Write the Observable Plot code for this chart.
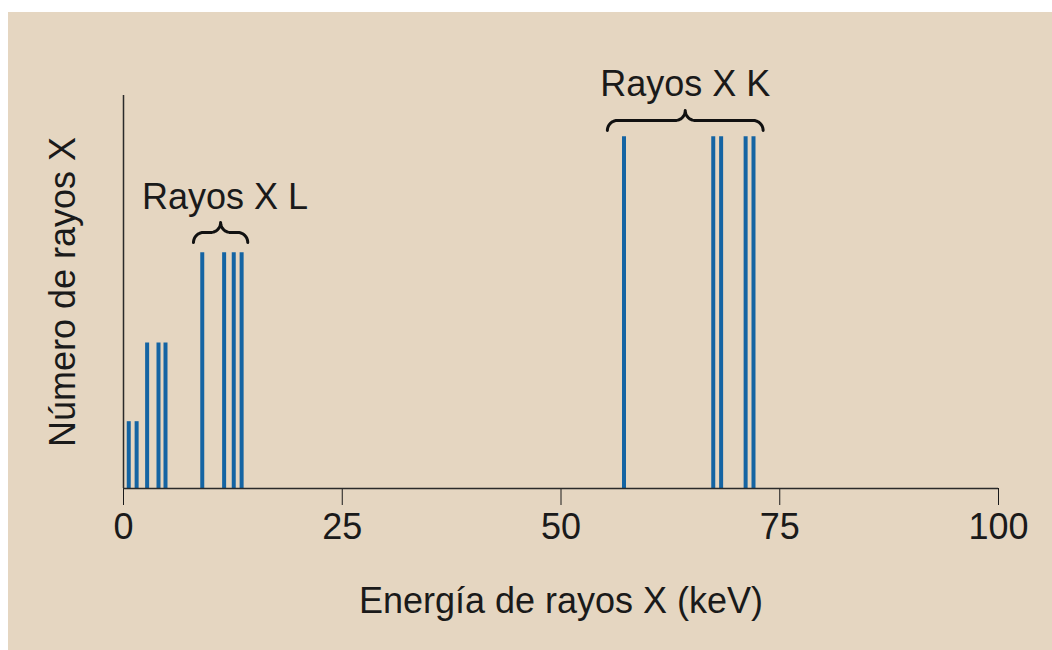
<!DOCTYPE html>
<html>
<head>
<meta charset="utf-8">
<script src="https://cdn.jsdelivr.net/npm/d3@7"></script>
<script src="https://cdn.jsdelivr.net/npm/@observablehq/plot@0.6"></script>
<style>
  html, body { margin: 0; padding: 0; background: #ffffff; }
  #panel { position: absolute; left: 8px; top: 12px; width: 1044px; height: 638px; background: #e5d6c1; }
  #panel svg { display: block; }
</style>
</head>
<body>
<div id="panel"></div>
<script>
// Spectral lines: energy (keV) and relative number of X-rays
const energies = [0.6, 1.5, 2.7, 4.0, 4.8, 9.0, 11.5, 12.6, 13.5, 57.2, 67.4, 68.3, 71.1, 72.0];
const counts   = [17, 17, 37, 37, 37, 60, 60, 60, 60, 89.5, 89.5, 89.5, 89.5, 89.5];

// Annotated groups (braces)
const groupLabels = ["Rayos X L", "Rayos X K"];
const groupStart  = [8.0, 55.3];
const groupEnd    = [14.2, 73.1];
const groupBase   = [62.6, 91.1];
const groupTextX  = [11.6, 64.2];
const groupTextY  = [71, 100];

const xTicks = [0, 25, 50, 75, 100];
const xLabel = "Energía de rayos X (keV)";
const yLabel = "Número de rayos X";

const W = 1044, H = 638;
const mL = 115, mR = 54, mT = 83, mB = 162;
const xDomain = [0, 100], yDomain = [0, 100];
const kx = (xDomain[1] - xDomain[0]) / (W - mL - mR); // data units per px
const ky = (yDomain[1] - yDomain[0]) / (H - mT - mB);

const lines = energies.map((e, i) => ({energy: e, count: counts[i]}));
const groups = groupLabels.map((g, i) => ({label: g, x: groupTextX[i], y: groupTextY[i]}));

// Curly brace outline built from each group's extent
function brace(g, x1, x2, yb) {
  const h = 20, r = h / 2;
  const wpx = (x2 - x1) / kx;
  const pts = [];
  const n = 12;
  const half = [];
  for (let j = 0; j <= n; j++) { const t = Math.PI - (Math.PI / 2) * j / n; half.push([r + r * Math.cos(t), r * Math.sin(t)]); }
  for (let j = 0; j <= n; j++) { const t = -Math.PI / 2 + (Math.PI / 2) * j / n; half.push([wpx / 2 - r + r * Math.cos(t), 2 * r + r * Math.sin(t)]); }
  half.forEach(([px, py]) => pts.push([px, py]));
  for (let j = half.length - 1; j >= 0; j--) pts.push([wpx - half[j][0], half[j][1]]);
  return pts.map(([px, py]) => ({g, x: x1 + px * kx, y: yb + py * ky}));
}
const braces = groupLabels.flatMap((g, i) => brace(g, groupStart[i], groupEnd[i], groupBase[i]));

const chart = Plot.plot({
  width: W, height: H,
  marginLeft: mL, marginRight: mR, marginTop: mT, marginBottom: mB,
  style: {background: "transparent", fontFamily: "'Liberation Sans', Arial, sans-serif", fontSize: "36px", color: "#1a1a1a"},
  x: {domain: xDomain, ticks: xTicks, tickSize: 17, tickPadding: 8, label: null, tickFormat: d => String(d)},
  y: {domain: yDomain, axis: null},
  marks: [
    Plot.ruleX(lines, {x: "energy", y1: 0, y2: "count", stroke: "#1464a3", strokeWidth: 4}),
    Plot.ruleY([0], {stroke: "#2a2a2a", strokeWidth: 1.5}),
    Plot.ruleX([0], {stroke: "#2a2a2a", strokeWidth: 1.5}),
    Plot.line(braces, {x: "x", y: "y", z: "g", stroke: "#111", strokeWidth: 3}),
    Plot.text(groups, {x: "x", y: "y", text: "label", lineAnchor: "bottom", fontSize: 36, fill: "#1a1a1a"}),
    Plot.text([xLabel], {frameAnchor: "bottom", dy: 124, lineAnchor: "bottom", fontSize: 36, fill: "#1a1a1a"}),
    Plot.text([yLabel], {frameAnchor: "left", dx: -60, rotate: -90, textAnchor: "middle", lineAnchor: "middle", fontSize: 36, fill: "#1a1a1a"})
  ]
});
document.getElementById("panel").appendChild(chart);
</script>
</body>
</html>
